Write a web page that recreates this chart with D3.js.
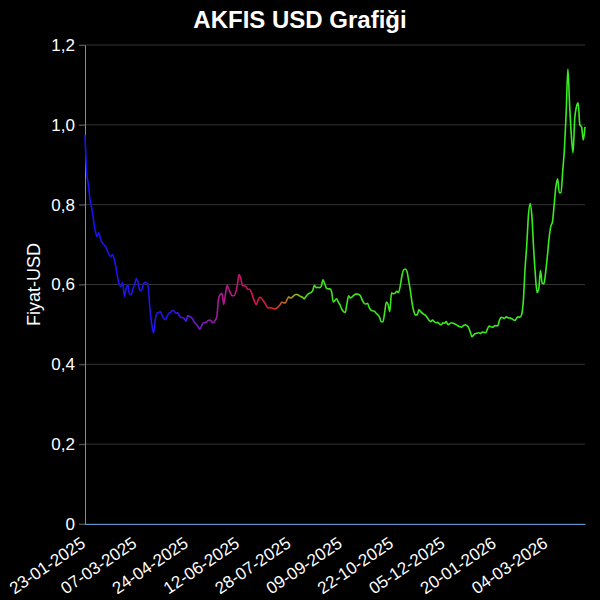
<!DOCTYPE html>
<html><head><meta charset="utf-8">
<script src="https://cdn.jsdelivr.net/npm/d3@7"></script>
<style>body{margin:0;background:#000}svg{display:block}</style>
</head><body>
<svg id="chart" width="600" height="600"></svg>
<script>
const chartTitle = "AKFIS USD Grafiği";
const yTitle = "Fiyat-USD";
const xTickLabels = ["23-01-2025","07-03-2025","24-04-2025","12-06-2025","28-07-2025","09-09-2025","22-10-2025","05-12-2025","20-01-2026","04-03-2026"];
const tickStep = 30;
const yTickValues = [0,0.2,0.4,0.6,0.8,1.0,1.2];
const prices = [
0.975,0.88,0.85,0.81,0.79,0.76,0.735,0.72,0.73,0.715,
0.705,0.70,0.695,0.685,0.675,0.67,0.675,0.665,0.645,0.62,
0.60,0.595,0.605,0.57,0.59,0.60,0.575,0.575,0.59,0.60,
0.615,0.605,0.585,0.585,0.60,0.605,0.605,0.59,0.535,0.50,
0.478,0.51,0.528,0.53,0.532,0.522,0.515,0.512,0.52,0.528,
0.53,0.535,0.533,0.528,0.53,0.522,0.518,0.517,0.514,0.508,
0.522,0.52,0.518,0.512,0.505,0.50,0.495,0.488,0.495,0.504,
0.504,0.506,0.51,0.511,0.507,0.504,0.51,0.52,0.565,0.575,
0.578,0.55,0.575,0.598,0.588,0.578,0.572,0.572,0.58,0.60,
0.625,0.615,0.597,0.597,0.595,0.588,0.588,0.582,0.57,0.558,
0.55,0.56,0.568,0.566,0.56,0.554,0.546,0.541,0.542,0.541,
0.54,0.539,0.541,0.545,0.55,0.556,0.554,0.554,0.562,0.569,
0.566,0.568,0.572,0.575,0.575,0.572,0.57,0.568,0.564,0.57,
0.575,0.578,0.58,0.585,0.598,0.592,0.593,0.592,0.596,0.612,
0.602,0.591,0.589,0.589,0.582,0.556,0.56,0.564,0.555,0.548,
0.538,0.532,0.53,0.553,0.572,0.566,0.569,0.573,0.576,0.576,
0.575,0.57,0.56,0.553,0.551,0.553,0.542,0.536,0.534,0.533,
0.528,0.524,0.518,0.507,0.506,0.53,0.556,0.55,0.532,0.579,
0.577,0.578,0.583,0.58,0.594,0.62,0.636,0.639,0.633,0.61,
0.585,0.554,0.533,0.524,0.524,0.537,0.532,0.528,0.525,0.522,
0.516,0.51,0.507,0.511,0.507,0.504,0.505,0.501,0.499,0.504,
0.503,0.507,0.499,0.502,0.504,0.503,0.501,0.499,0.496,0.494,
0.493,0.497,0.499,0.497,0.492,0.481,0.469,0.474,0.477,0.478,
0.479,0.477,0.481,0.48,0.479,0.488,0.496,0.494,0.493,0.496,
0.497,0.496,0.51,0.518,0.517,0.515,0.519,0.517,0.516,0.515,
0.512,0.51,0.515,0.519,0.518,0.525,0.56,0.64,0.70,0.775,
0.803,0.77,0.69,0.625,0.58,0.59,0.635,0.603,0.602,0.63,
0.67,0.715,0.745,0.757,0.8,0.845,0.865,0.83,0.83,0.885,
0.94,1.03,1.14,1.05,0.975,0.93,1.015,1.045,1.055,1.0,
0.995,0.962,0.995
];
const gradientStops = [
  [0.00,"#1414f0"],[0.17,"#2414ec"],[0.22,"#6a1ad0"],[0.27,"#a81a98"],
  [0.32,"#cc1460"],[0.37,"#dc1a2a"],[0.40,"#c0641e"],[0.425,"#86c418"],
  [0.445,"#3ee41a"],[1.00,"#36ee1e"]
];

const svg = d3.select("#chart");
const W = 600, H = 600;
const m = {left:85, right:15, top:45, bottom:76};
const font = "'Liberation Sans', Arial, sans-serif";
svg.append("rect").attr("width",W).attr("height",H).attr("fill","#000");

const x = d3.scaleLinear().domain([0, prices.length-1]).range([m.left, W-m.right]);
const y = d3.scaleLinear().domain([0, 1.2]).range([H-m.bottom, m.top]);

const loc = d3.formatLocale({decimal:",", thousands:".", grouping:[3], currency:["",""]});
const fmt = v => v === 0 ? "0" : loc.format(".1f")(v);

// grid
svg.append("g").selectAll("line").data(yTickValues).join("line")
  .attr("x1", m.left-6).attr("x2", W-m.right)
  .attr("y1", d=>y(d)).attr("y2", d=>y(d))
  .attr("stroke","#343434").attr("stroke-width",1);

// y axis
const yAxis = svg.append("g").attr("transform",`translate(${m.left},0)`)
  .call(d3.axisLeft(y).tickValues(yTickValues).tickFormat(fmt).tickSize(6).tickPadding(4));
yAxis.select(".domain").attr("stroke","#5f95cc");
yAxis.selectAll(".tick line").attr("stroke","#555");
yAxis.selectAll("text").attr("fill","#fff").style("font-family",font).style("font-size","17px");

// x axis
const tickIdx = xTickLabels.map((_,i)=>i*tickStep);
const xAxis = svg.append("g").attr("transform",`translate(0,${H-m.bottom})`)
  .call(d3.axisBottom(x).tickValues(tickIdx).tickFormat((d,i)=>xTickLabels[i]).tickSize(0).tickPadding(0));
xAxis.select(".domain").attr("stroke","#5f95cc");
xAxis.selectAll("text").attr("fill","#fff")
  .style("font-family",font).style("font-size","17px")
  .attr("text-anchor","end").attr("x",0).attr("y",0).attr("dx",0).attr("dy",0)
  .attr("transform","translate(1,22) rotate(-34)");

// gradient
const defs = svg.append("defs");
const grad = defs.append("linearGradient").attr("id","lg").attr("gradientUnits","userSpaceOnUse")
  .attr("x1", m.left).attr("x2", W-m.right).attr("y1",0).attr("y2",0);
grad.selectAll("stop").data(gradientStops).join("stop")
  .attr("offset", d=>d[0]).attr("stop-color", d=>d[1]);

const line = d3.line().x((d,i)=>x(i)).y(d=>y(d)).curve(d3.curveMonotoneX);
svg.append("path").datum(prices).attr("d", line)
  .attr("fill","none").attr("stroke","url(#lg)").attr("stroke-width",1.6).attr("stroke-linejoin","round");

// titles
svg.append("text").attr("x", W/2).attr("y", 28).attr("text-anchor","middle")
  .attr("fill","#fff").style("font-family",font)
  .style("font-size","24px").style("font-weight","bold").text(chartTitle);
svg.append("text").attr("transform",`translate(40,${(m.top+H-m.bottom)/2}) rotate(-90)`)
  .attr("text-anchor","middle").attr("fill","#fff")
  .style("font-family",font).style("font-size","18px").text(yTitle);
</script>
</body></html>
